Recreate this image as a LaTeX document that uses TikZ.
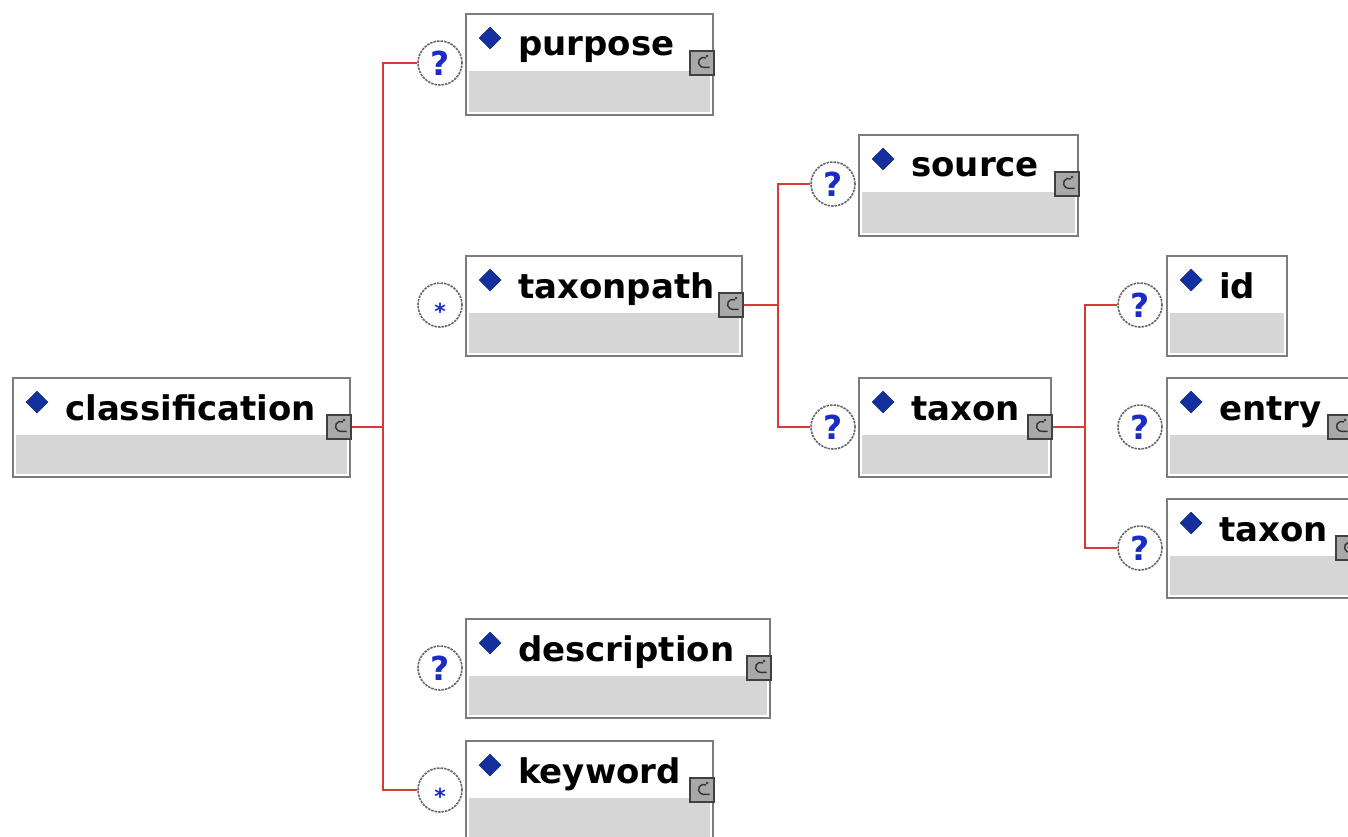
\documentclass[tikz,border=0pt]{standalone}
\usepackage{fontspec}
\setmainfont{DejaVu Sans}
\usetikzlibrary{calc,shapes.geometric}

\definecolor{frame}{HTML}{7C7C7C}
\definecolor{band}{HTML}{D6D6D6}
\definecolor{wire}{HTML}{D83A3A}
\definecolor{mark}{HTML}{1A2CC8}
\definecolor{gem}{HTML}{14309E}
\definecolor{chip}{HTML}{A8A8A8}

\tikzset{
  elbox/.style={draw=frame, line width=2pt, fill=white, inner sep=0pt, anchor=north west},
  eltext/.style={font=\bfseries\fontsize{34}{34}\selectfont, anchor=base west, inner sep=0pt},
  gemmark/.style={diamond, fill=gem, draw=gem!70!black, line width=0.5pt, minimum width=22pt, minimum height=22pt, inner sep=0pt},
  chipbox/.style={draw=black!75, fill=chip, line width=1.4pt, minimum size=24pt, inner sep=0pt},
  occur/.style={circle, draw=black!60, dash pattern=on 2.5pt off 1pt, line width=1.6pt, fill=white, minimum size=44pt, inner sep=0pt},
  optmark/.style={font=\bfseries\fontsize{33}{33}\selectfont, text=mark},
  manymark/.style={font=\bfseries\fontsize{22}{22}\selectfont, text=mark},
  conn/.style={draw=wire, line width=2.4pt},
}

% \xsdel{name}{left}{top}{right}{bottom}{label}{with chip: 1/0}
\newcommand\xsdel[7]{%
  \node[elbox, minimum width=#4-#2, minimum height=#5-#3] (#1) at (#2,#3) {};
  \fill[band] ($(#1.north west)+(4,58)$) rectangle ($(#1.south east)+(-4,-4)$);
  \node[gemmark] (#1-g) at ($(#1.north west)+(25,25)$) {};
  \node[eltext] (#1-t) at ($(#1.north west)+(53,43)$) {#6};
  \ifnum#7=1
    \node[chipbox] (#1-c) at ($(#1.north east)+(-12,50)$) {};
    \draw[black!80, line width=1.4pt] ($(#1-c.center)+(4,-5)$) arc[start angle=60, end angle=270, radius=5pt] -- ++(6,0);
    \fill[black!80] ($(#1-c.center)+(5,-7)$) circle[radius=1.3pt];
  \fi
}

\begin{document}
\begin{tikzpicture}[x=1pt, y=-1pt]
\clip (0,0) rectangle (1348,837);
\useasboundingbox (0,0) rectangle (1348,837);

% element boxes
\xsdel{cls}{12}{377}{349}{476}{classification}{1}
\xsdel{purpose}{465}{13}{712}{114}{purpose}{1}
\xsdel{taxonpath}{465}{255}{741}{355}{taxonpath}{1}
\xsdel{description}{465}{618}{769}{717}{description}{1}
\xsdel{keyword}{465}{740}{712}{840}{keyword}{1}
\xsdel{source}{858}{134}{1077}{235}{source}{1}
\xsdel{taxon}{858}{377}{1050}{476}{taxon}{1}
\xsdel{id}{1166}{255}{1286}{355}{id}{0}
\xsdel{entry}{1166}{377}{1350}{476}{entry}{1}
\xsdel{subtaxon}{1166}{498}{1358}{597}{taxon}{1}

% occurrence markers
\node[occur] (o-purpose) at (440,63) {};
\node[optmark] at (o-purpose) {?};
\node[occur] (o-taxonpath) at (440,305) {};
\node[manymark] at ($(o-taxonpath)+(0,6)$) {*};
\node[occur] (o-description) at (440,668) {};
\node[optmark] at (o-description) {?};
\node[occur] (o-keyword) at (440,790) {};
\node[manymark] at ($(o-keyword)+(0,6)$) {*};
\node[occur] (o-source) at (833,184) {};
\node[optmark] at (o-source) {?};
\node[occur] (o-taxon) at (833,427) {};
\node[optmark] at (o-taxon) {?};
\node[occur] (o-id) at (1140,305) {};
\node[optmark] at (o-id) {?};
\node[occur] (o-entry) at (1140,427) {};
\node[optmark] at (o-entry) {?};
\node[occur] (o-subtaxon) at (1140,548) {};
\node[optmark] at (o-subtaxon) {?};

% branching connectors
\coordinate (j-cls) at (383,427);
\coordinate (j-path) at (778,305);
\coordinate (j-taxon) at (1085,427);

\draw[conn] (cls-c.east) -- (j-cls);
\draw[conn] (o-purpose.west) -| (j-cls);
\draw[conn] (o-keyword.west) -| (j-cls);

\draw[conn] (taxonpath-c.east) -- (j-path);
\draw[conn] (o-source.west) -| (j-path);
\draw[conn] (o-taxon.west) -| (j-path);

\draw[conn] (taxon-c.east) -- (j-taxon);
\draw[conn] (o-id.west) -| (j-taxon);
\draw[conn] (o-subtaxon.west) -| (j-taxon);
\end{tikzpicture}
\end{document}
